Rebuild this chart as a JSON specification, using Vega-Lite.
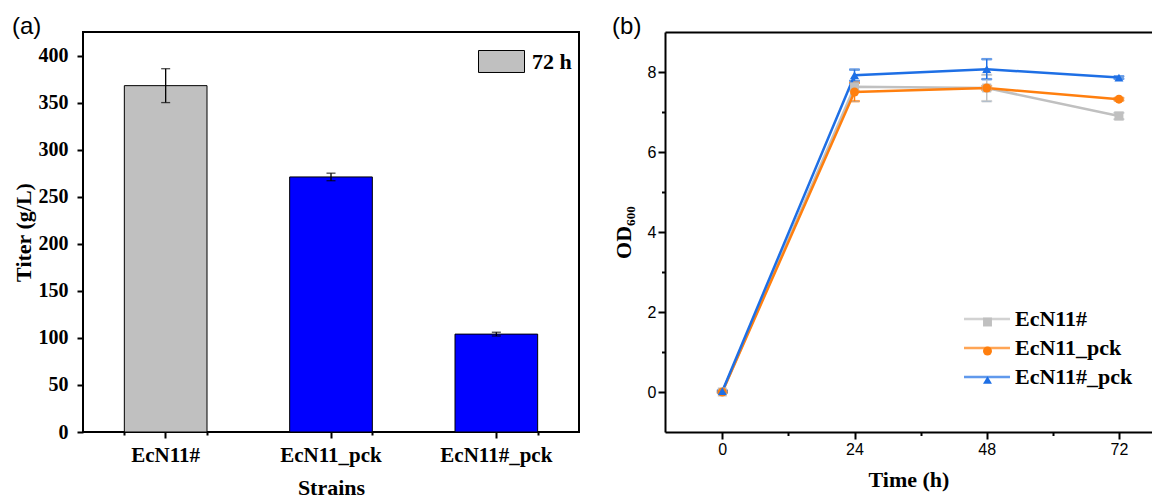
{
  "$schema": "https://vega.github.io/schema/vega-lite/v6.json",
  "background": "white",
  "padding": {"left": 11, "top": 14, "right": 0, "bottom": 0},
  "spacing": 32,
  "config": {
    "axis": {"grid": false, "tickColor": "black", "tickWidth": 2, "domainColor": "black", "domainWidth": 2, "labelColor": "black", "titleColor": "black", "labelOverlap": false},
    "legend": {"labelColor": "black"}
  },
  "resolve": {
    "scale": {"x": "independent", "y": "independent", "color": "independent", "fill": "independent", "stroke": "independent", "shape": "independent"},
    "legend": {"fill": "independent", "stroke": "independent", "shape": "independent", "color": "independent"}
  },
  "hconcat": [
    {
      "width": 496,
      "height": 400,
      "view": {"stroke": "black", "strokeWidth": 2},
      "title": {"text": "(a)", "anchor": "start", "frame": "bounds", "font": "Liberation Sans", "fontSize": 24, "fontWeight": "normal", "color": "black", "baseline": "alphabetic", "offset": -26},
      "data": {
        "values": [
          {"strain": "EcN11#", "titer": 368, "sd": 18},
          {"strain": "EcN11_pck", "titer": 271, "sd": 4},
          {"strain": "EcN11#_pck", "titer": 104, "sd": 2}
        ]
      },
      "resolve": {"axis": {"x": "independent"}},
      "layer": [
        {
          "mark": {"type": "bar", "stroke": "black", "strokeWidth": 1},
          "encoding": {
            "x": {
              "field": "strain", "type": "nominal", "sort": null, "title": "Strains",
              "scale": {"paddingInner": 0.5, "paddingOuter": 0.25},
              "axis": {"orient": "bottom", "title": "Strains", "labelAngle": 0, "labelFont": "Liberation Serif", "labelFontWeight": "bold", "labelFontSize": 21, "tickSize": 6, "labelPadding": 6, "domain": false, "titleFont": "Liberation Serif", "titleFontWeight": "bold", "titleFontSize": 22, "titlePadding": 12}
            },
            "y": {
              "field": "titer", "type": "quantitative", "title": "Titer (g/L)",
              "scale": {"domain": [0, 425], "nice": false},
              "axis": {
                "title": "Titer (g/L)",
                "values": [0, 25, 50, 75, 100, 125, 150, 175, 200, 225, 250, 275, 300, 325, 350, 375, 400],
                "labelExpr": "datum.value % 50 == 0 ? datum.label : ''",
                "tickSize": {"condition": {"test": "datum.value % 50 != 0", "value": 3}, "value": 6},
                "domain": false,
                "labelFont": "Liberation Serif", "labelFontWeight": "bold", "labelFontSize": 20, "labelPadding": 9,
                "titleFont": "Liberation Serif", "titleFontWeight": "bold", "titleFontSize": 22, "titlePadding": 3
              }
            },
            "color": {
              "field": "strain", "type": "nominal", "sort": null,
              "scale": {"domain": ["EcN11#", "EcN11_pck", "EcN11#_pck"], "range": ["#C0C0C0", "#0000FF", "#0000FF"]},
              "legend": null
            }
          }
        },
        {
          "transform": [{"filter": "datum.titer < 0"}],
          "mark": {"type": "bar", "stroke": "black", "strokeWidth": 1},
          "encoding": {
            "x": {"field": "strain", "type": "nominal", "sort": null, "title": "Strains", "axis": {"orient": "bottom", "tickBand": "extent", "labels": false, "domain": false, "title": null, "tickSize": 3}},
            "y": {"field": "titer", "type": "quantitative", "title": "Titer (g/L)"},
            "fill": {
              "datum": "72 h",
              "scale": {"domain": ["72 h"], "range": ["#C0C0C0"]},
              "legend": {"title": null, "orient": "none", "legendX": 395, "legendY": 6, "padding": 0, "symbolType": "M-1,-0.478H1V0.478H-1Z", "symbolSize": 2116, "symbolStrokeColor": "black", "symbolStrokeWidth": 1, "symbolFillColor": "#C0C0C0", "labelFont": "Liberation Serif", "labelFontWeight": "bold", "labelFontSize": 22, "labelOffset": 7, "labelColor": "black"}
            }
          }
        },
        {
          "mark": {"type": "errorbar", "color": "black", "ticks": {"size": 9, "thickness": 1.3}, "rule": {"strokeWidth": 1.3}},
          "encoding": {
            "x": {"field": "strain", "type": "nominal", "sort": null, "title": "Strains", "axis": null},
            "y": {"field": "titer", "type": "quantitative", "title": "Titer (g/L)"},
            "yError": {"field": "sd"}
          }
        }
      ]
    },
    {
      "width": 487,
      "height": 400,
      "view": {"stroke": null},
      "title": {"text": "(b)", "anchor": "start", "frame": "bounds", "font": "Liberation Sans", "fontSize": 24, "fontWeight": "normal", "color": "black", "baseline": "alphabetic", "offset": -26},
      "data": {
        "values": [
          {"strain": "EcN11#", "time": 0, "od": 0.0, "sd": 0.02},
          {"strain": "EcN11#", "time": 24, "od": 7.63, "sd": 0.1},
          {"strain": "EcN11#", "time": 48, "od": 7.6, "sd": 0.33},
          {"strain": "EcN11#", "time": 72, "od": 6.9, "sd": 0.08},
          {"strain": "EcN11_pck", "time": 0, "od": 0.0, "sd": 0.02},
          {"strain": "EcN11_pck", "time": 24, "od": 7.5, "sd": 0.23},
          {"strain": "EcN11_pck", "time": 48, "od": 7.6, "sd": 0.05},
          {"strain": "EcN11_pck", "time": 72, "od": 7.32, "sd": 0.03},
          {"strain": "EcN11#_pck", "time": 0, "od": 0.02, "sd": 0.02},
          {"strain": "EcN11#_pck", "time": 24, "od": 7.92, "sd": 0.14},
          {"strain": "EcN11#_pck", "time": 48, "od": 8.07, "sd": 0.25},
          {"strain": "EcN11#_pck", "time": 72, "od": 7.86, "sd": 0.03}
        ]
      },
      "resolve": {"axis": {"x": "independent"}},
      "layer": [
        {
          "mark": {"type": "errorbar", "ticks": {"size": 10, "thickness": 1.5}, "rule": {"strokeWidth": 1.5}},
          "encoding": {
            "x": {"field": "time", "type": "quantitative", "title": "Time (h)", "axis": null},
            "y": {"field": "od", "type": "quantitative", "title": "OD₆₀₀"},
            "yError": {"field": "sd"},
            "stroke": {
              "field": "strain", "type": "nominal",
              "sort": ["EcN11#", "EcN11_pck", "EcN11#_pck"],
              "scale": {"range": ["#C0C0C0", "#FF7F0E", "#1E6FE5"]},
              "legend": {"title": null, "orient": "none", "legendX": 311, "legendY": 276, "padding": 0, "rowPadding": 7, "symbolType": "M-3,0H3", "symbolSize": 235, "symbolStrokeWidth": 2.5, "labelFont": "Liberation Serif", "labelFontWeight": "bold", "labelFontSize": 22, "labelOffset": 17, "labelColor": "black"}
            }
          }
        },
        {
          "mark": {"type": "line", "strokeWidth": 2.5},
          "encoding": {
            "x": {
              "field": "time", "type": "quantitative", "title": "Time (h)",
              "scale": {"domain": [-10.4, 78.0], "nice": false, "zero": false},
              "axis": {
                "orient": "bottom",
                "title": "Time (h)",
                "values": [0, 12, 24, 36, 48, 60, 72],
                "labelExpr": "datum.value % 24 == 0 ? datum.label : ''",
                "tickSize": {"condition": {"test": "datum.value % 24 != 0", "value": 3.5}, "value": 7},
                "labelFont": "Liberation Sans", "labelFontSize": 16, "labelPadding": 2,
                "titleFont": "Liberation Serif", "titleFontWeight": "bold", "titleFontSize": 22, "titlePadding": 12
              }
            },
            "y": {
              "field": "od", "type": "quantitative", "title": "OD₆₀₀",
              "scale": {"domain": [-1, 9], "nice": false, "zero": false},
              "axis": {
                "title": "OD₆₀₀",
                "values": [0, 1, 2, 3, 4, 5, 6, 7, 8],
                "labelExpr": "datum.value % 2 == 0 ? datum.label : ''",
                "tickSize": {"condition": {"test": "datum.value % 2 != 0", "value": 3.5}, "value": 7},
                "labelFont": "Liberation Sans", "labelFontSize": 16, "labelPadding": 2,
                "titleFont": "Liberation Serif", "titleFontWeight": "bold", "titleFontSize": 22, "titlePadding": 12
              }
            },
            "stroke": {
              "field": "strain", "type": "nominal",
              "sort": ["EcN11#", "EcN11_pck", "EcN11#_pck"],
              "scale": {"range": ["#C0C0C0", "#FF7F0E", "#1E6FE5"]},
              "legend": {"title": null, "orient": "none", "legendX": 311, "legendY": 276, "padding": 0, "rowPadding": 7, "symbolType": "M-3,0H3", "symbolSize": 235, "symbolStrokeWidth": 2.5, "labelFont": "Liberation Serif", "labelFontWeight": "bold", "labelFontSize": 22, "labelOffset": 17, "labelColor": "black"}
            }
          }
        },
        {
          "mark": {"type": "point", "filled": true, "size": 80, "opacity": 1},
          "encoding": {
            "x": {"field": "time", "type": "quantitative", "title": "Time (h)", "axis": {"orient": "top", "labels": false, "ticks": false, "title": null, "domain": true}},
            "y": {"field": "od", "type": "quantitative", "title": "OD₆₀₀"},
            "color": {
              "field": "strain", "type": "nominal",
              "scale": {"domain": ["EcN11#", "EcN11_pck", "EcN11#_pck"], "range": ["#C0C0C0", "#FF7F0E", "#1E6FE5"]},
              "legend": {"title": null, "orient": "none", "legendX": 311.5, "legendY": 279, "padding": 0, "rowPadding": 7, "symbolSize": 80, "labelFont": "Liberation Serif", "labelFontWeight": "bold", "labelFontSize": 22, "labelOpacity": 0}
            },
            "shape": {
              "field": "strain", "type": "nominal",
              "scale": {"domain": ["EcN11#", "EcN11_pck", "EcN11#_pck"], "range": ["square", "circle", "triangle-up"]},
              "legend": {"title": null, "orient": "none", "legendX": 311.5, "legendY": 279, "padding": 0, "rowPadding": 7, "symbolSize": 80, "labelFont": "Liberation Serif", "labelFontWeight": "bold", "labelFontSize": 22, "labelOpacity": 0}
            }
          }
        }
      ]
    }
  ]
}
